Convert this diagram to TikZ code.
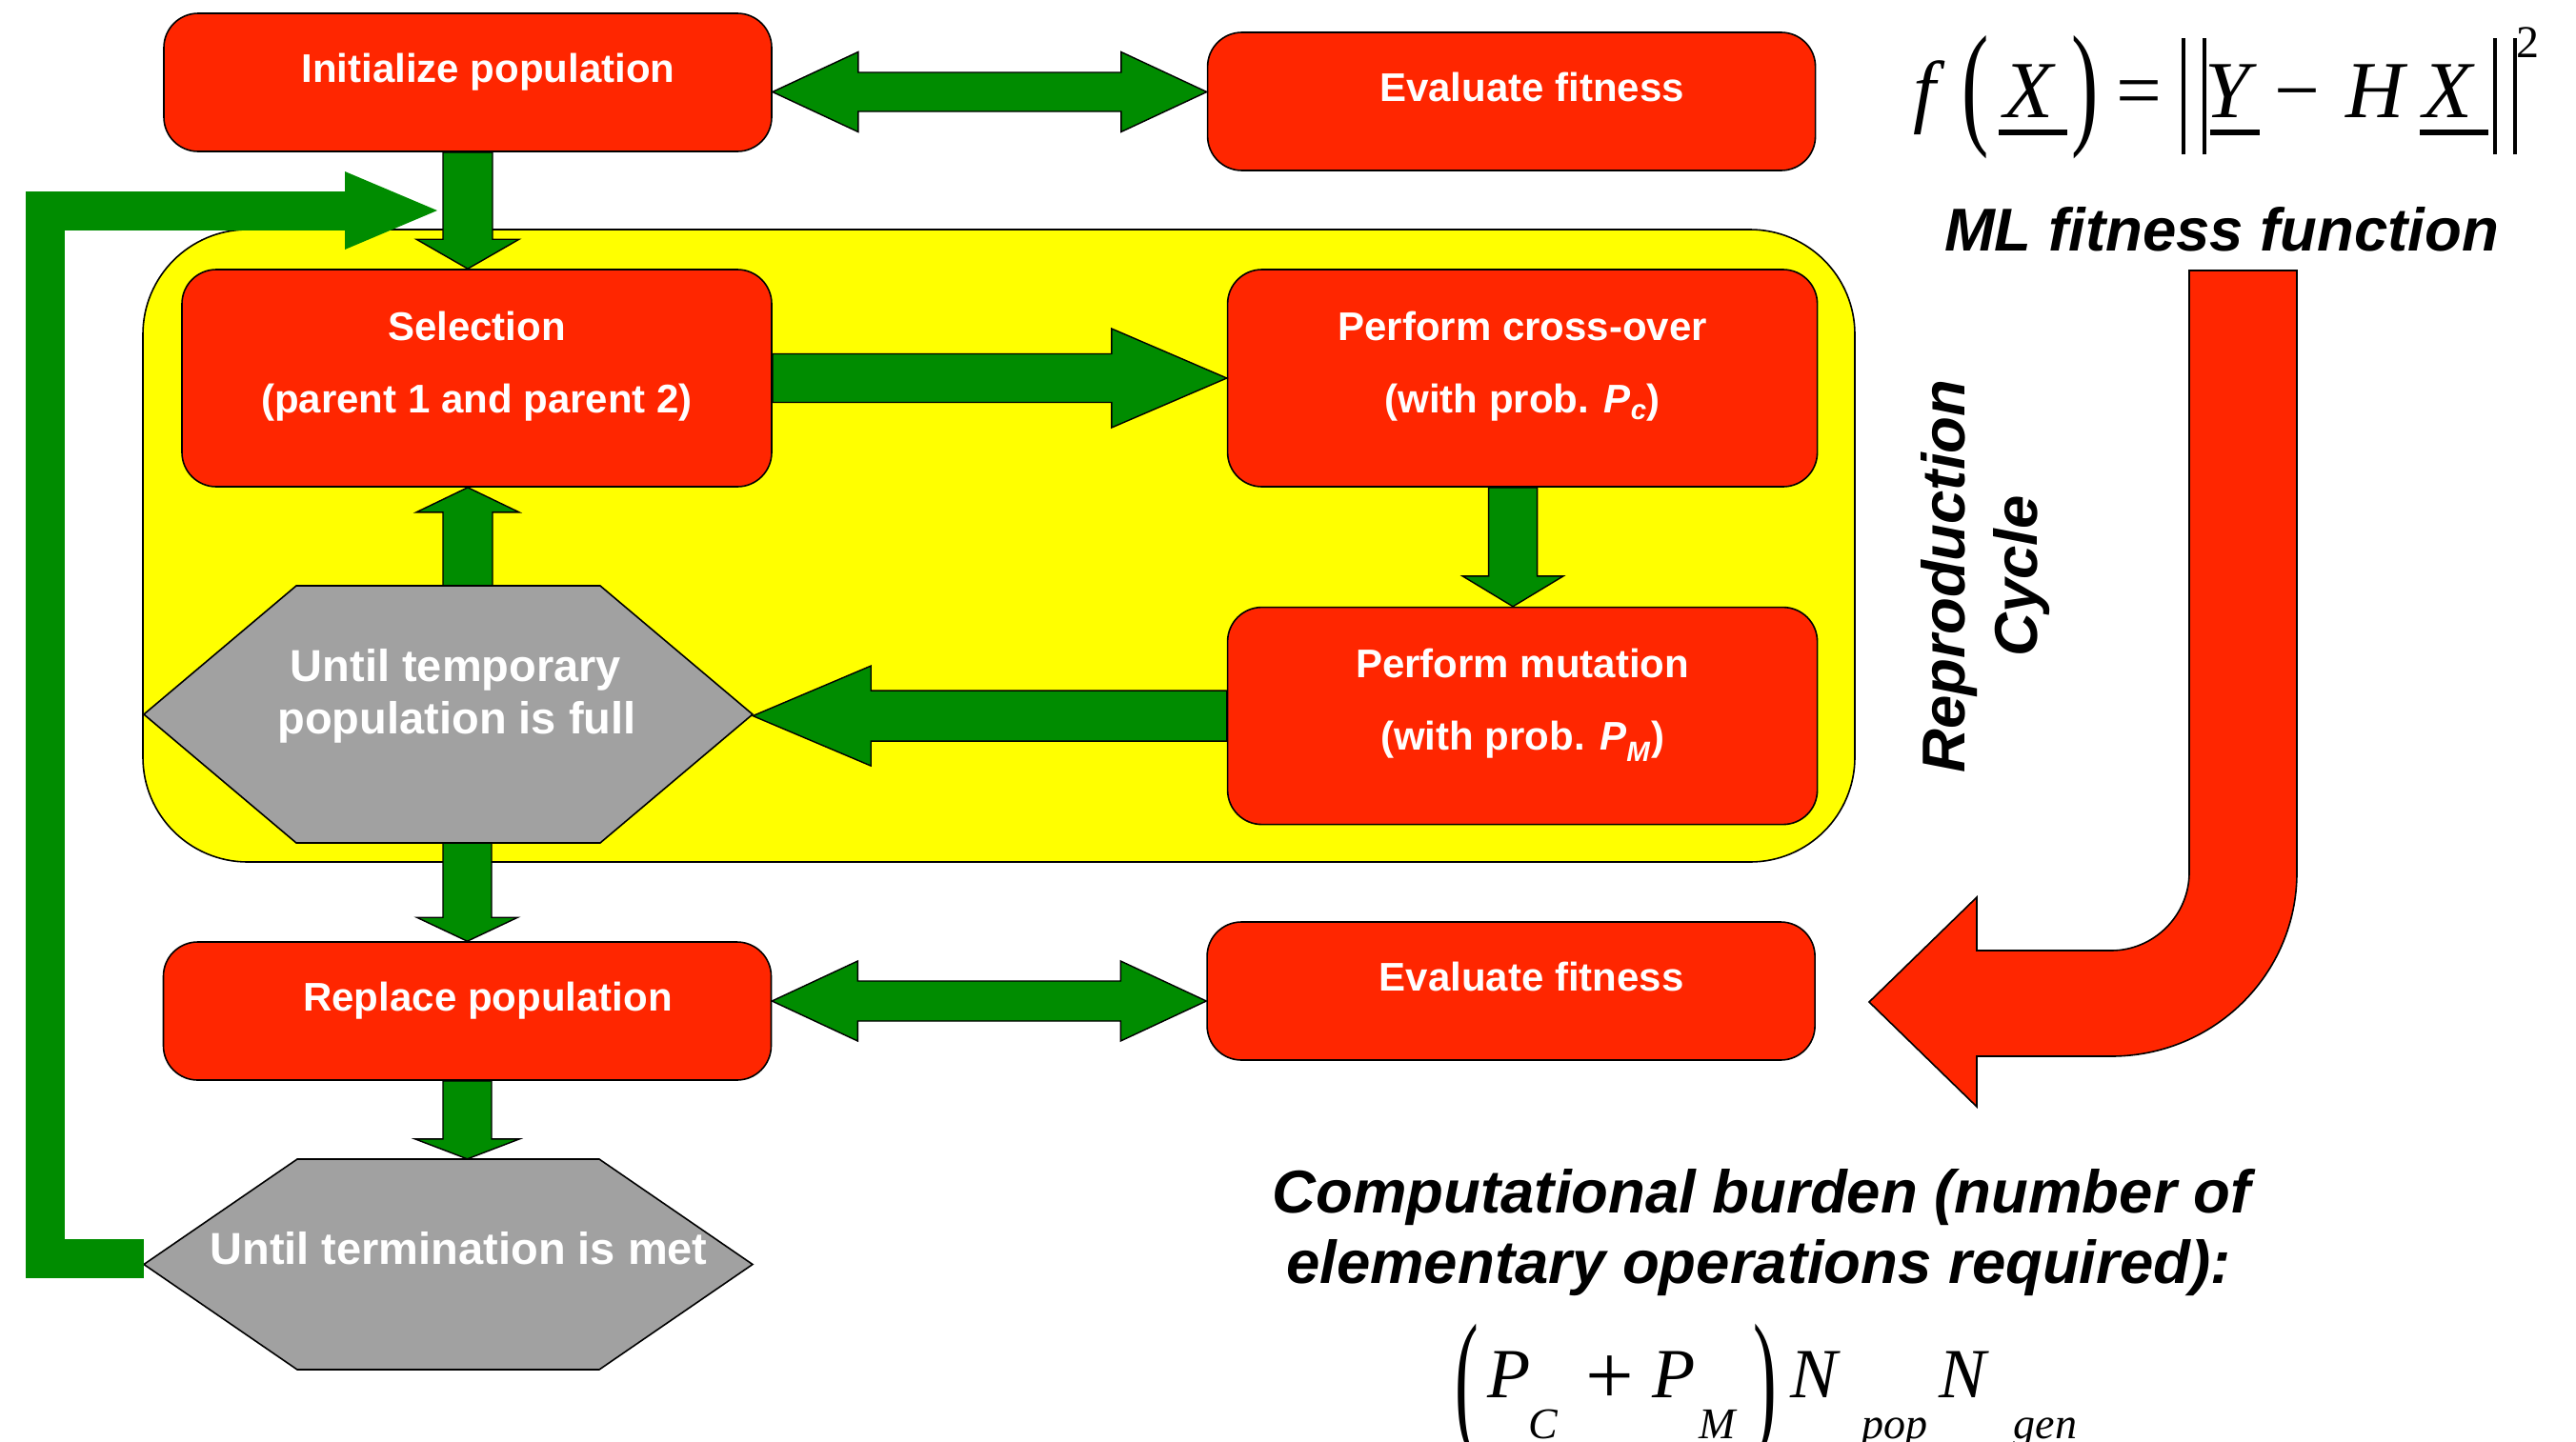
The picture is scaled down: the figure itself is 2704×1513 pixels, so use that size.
\documentclass[tikz,border=0pt]{standalone}
\usepackage{graphicx}
\usepackage{fontspec}
\setmainfont{Liberation Sans}
\newfontfamily\tmsfont{Liberation Serif}
\usetikzlibrary{calc,positioning,arrows.meta}

\definecolor{boxred}{RGB}{255,38,0}
\definecolor{arrowgreen}{RGB}{0,140,0}
\definecolor{cycleyellow}{RGB}{255,255,0}
\definecolor{hexgrey}{RGB}{161,161,161}

\newcommand{\boxfont}{\fontsize{42}{76}\selectfont\bfseries}
\newcommand{\hexfont}{\fontsize{47}{55}\selectfont\bfseries}
\newcommand{\notefont}{\fontsize{63.5}{76}\selectfont\bfseries\itshape}

% block arrows: from, to, shaft half width, head half width, head length
\newcommand{\harrow}[5]{%
  \draw[fatarrow] let \p1=(#1), \p2=(#2), \n1={ifthenelse(\x2>\x1,1,-1)} in
    (\x1,\y1+#3pt) -- ({\x2-(\n1)*#5pt},\y1+#3pt) -- ({\x2-(\n1)*#5pt},\y1+#4pt)
    -- (\x2,\y1) -- ({\x2-(\n1)*#5pt},\y1-#4pt) -- ({\x2-(\n1)*#5pt},\y1-#3pt)
    -- (\x1,\y1-#3pt) -- cycle;}
\newcommand{\varrow}[5]{%
  \draw[fatarrow] let \p1=(#1), \p2=(#2), \n1={ifthenelse(\y2>\y1,1,-1)} in
    (\x1-#3pt,\y1) -- (\x1-#3pt,{\y2-(\n1)*#5pt}) -- (\x1-#4pt,{\y2-(\n1)*#5pt})
    -- (\x1,\y2) -- (\x1+#4pt,{\y2-(\n1)*#5pt}) -- (\x1+#3pt,{\y2-(\n1)*#5pt})
    -- (\x1+#3pt,\y1) -- cycle;}
\newcommand{\dharrow}[5]{%
  \draw[fatarrow] let \p1=(#1), \p2=(#2) in
    (\x1,\y1) -- (\x1+#5pt,\y1+#4pt) -- (\x1+#5pt,\y1+#3pt) -- (\x2-#5pt,\y1+#3pt)
    -- (\x2-#5pt,\y1+#4pt) -- (\x2,\y1) -- (\x2-#5pt,\y1-#4pt) -- (\x2-#5pt,\y1-#3pt)
    -- (\x1+#5pt,\y1-#3pt) -- (\x1+#5pt,\y1-#4pt) -- cycle;}
% hexagon: center, half width, half height, cut
\newcommand{\hexshape}[4]{%
  \draw[hexa] ($(#1)+(-#2,0)$) -- ($(#1)+(-#2+#4,-#3)$) -- ($(#1)+(#2-#4,-#3)$)
    -- ($(#1)+(#2,0)$) -- ($(#1)+(#2-#4,#3)$) -- ($(#1)+(-#2+#4,#3)$) -- cycle;}
% formula pieces
\newcommand{\at}[2]{\rlap{\hspace*{#1}#2}}
\newcommand{\tallp}[3]{\raisebox{#3}{\scalebox{1}[#2]{#1}}}
\newcommand{\ubar}[3]{\rlap{\hspace*{#1}\rule[-19pt]{#2}{6pt}}#3}
\newcommand{\normbar}{\rule[-39pt]{4pt}{122pt}}
\newcommand{\subf}[1]{\raisebox{-43pt}{\fontsize{46}{46}\selectfont\itshape #1}}

\begin{document}
\begin{tikzpicture}[x=1pt,y=-1pt,
    boxbase/.style={draw=black, line width=1.6pt, fill=boxred, rounded corners=36pt,
      inner sep=0pt, text=white, font=\boxfont, text depth=0pt},
    stepbox/.style={boxbase, minimum width=638pt, minimum height=145pt,
      text height=0pt, execute at begin node=\hspace*{43pt}},
    twobox/.style={boxbase, minimum width=619pt, minimum height=228pt,
      align=center, text height=72pt},
    hexa/.style={draw=black, line width=1.6pt, fill=hexgrey},
    hextext/.style={text=white, font=\hexfont, inner sep=0pt, align=center,
      minimum width=639pt},
    fatarrow/.style={draw=black, line width=1.4pt, fill=arrowgreen},
    loopline/.style={draw=arrowgreen, line width=41pt,
      -{Triangle[width=82pt,length=97pt,line width=0pt]}},
    bigred/.style={draw=black, line width=1.6pt, fill=boxred},
    note/.style={font=\notefont, inner sep=0pt},
    formula/.style={inner sep=0pt, font=\tmsfont\fontsize{85}{90}\selectfont}]

  \useasboundingbox (0,0) rectangle (2704,1513);
  \clip (0,0) rectangle (2704,1513);

  %Reproduction cycle%
  \draw[draw=black, line width=1.6pt, fill=cycleyellow, rounded corners=110pt]
    (150,241) rectangle (1947,905);

  %Steps%
  \node[stepbox] (init) at (491,86.5) {Initialize population};
  \node[stepbox, right=456pt of init, yshift=-20pt] (eval1) {Evaluate fitness};
  \node[twobox] (sel) at (500.5,397) {Selection\\(parent 1 and parent 2)};
  \node[twobox, right=477pt of sel] (cross)
    {Perform cross-over\\(with prob. \textit{P}\textsubscript{\textit{c}})};
  \node[twobox, below=125pt of cross] (mut)
    {Perform mutation\\(with prob. \textit{P}\textsubscript{\textit{M}})};
  \node[stepbox] (rep) at (490.5,1061.5) {Replace population};
  \node[stepbox, right=456pt of rep, yshift=21pt] (eval2) {Evaluate fitness};

  %Loops%
  \coordinate (hex1) at (470.5,750);
  \coordinate (hex2) at (470.5,1327.5);
  \hexshape{hex1}{319.5}{135}{160}
  \hexshape{hex2}{319.5}{110.5}{161}
  \node[hextext, minimum height=270pt, text height=40pt, text depth=0pt] (full) at (hex1)
    {\hspace*{16pt}Until temporary\\\hspace*{18pt}population is full};
  \node[hextext, minimum height=221pt, text height=0pt, text depth=0pt] (term) at (hex2)
    {\hspace*{22pt}Until termination is met};

  %Arrows%
  \coordinate (m1) at ($(init.east)!.5!(eval1.west)$);
  \coordinate (m2) at ($(rep.east)!.5!(eval2.west)$);
  \dharrow{init.east |- m1}{eval1.west |- m1}{20.5}{42}{90}
  \dharrow{rep.east |- m2}{eval2.west |- m2}{21}{42}{90}
  \varrow{init.south}{init.south |- sel.north}{26}{54}{31}
  \harrow{sel.east}{cross.west}{25.5}{52}{121}
  \varrow{$(cross.south)+(-10,0)$}{mut.north}{25.5}{53}{32}
  \harrow{mut.west}{full.east}{26.5}{52.5}{124}
  \varrow{init.south |- full.north}{sel.south}{26}{54}{26}
  \varrow{rep.north |- full.south}{rep.north}{25.5}{53}{25}
  \varrow{rep.south}{term.north}{25.5}{55}{21}

  \coordinate (looptip) at (459,221);
  \draw[loopline] ([yshift=6.5pt]term.west) -| (47.5,221) -- (looptip);

  %Fitness%
  \node[formula, anchor=base west] (fitfun) at (2000,123) {%
    \at{8pt}{\itshape f}\at{59pt}{\tallp{(}{1.68}{-13.6pt}}%
    \at{103pt}{\ubar{-6pt}{72pt}{\itshape X}}\at{174pt}{\tallp{)}{1.68}{-13.6pt}}%
    \at{221pt}{=}\at{289pt}{\normbar}\at{311pt}{\normbar}%
    \at{314pt}{\ubar{5pt}{52pt}{\itshape Y}}\at{387pt}{−}\at{462pt}{\itshape H}%
    \at{543pt}{\ubar{-4pt}{72pt}{\itshape X}}\at{616pt}{\normbar}\at{637pt}{\normbar}%
    \at{641pt}{\raisebox{63pt}{\fontsize{48}{50}\selectfont 2}}};
  \node[note, anchor=base] (mltext) at (2332,263) {ML fitness function};
  \draw[bigred] (2298,284) -- (2298,916) .. controls (2298,961) and (2261,998) .. (2216,998)
    -- (2075,998) -- (2075,942) -- (1962,1052) -- (2075,1162) -- (2075,1109) -- (2216,1109)
    .. controls (2324,1109) and (2411,1023) .. (2411,916) -- (2411,284) -- cycle;
  \node[note, rotate=90, align=center] (repcyc) at (2084,605) {Reproduction\\Cycle};

  %Burden%
  \node[note, anchor=base] (burden1) at (1849,1273) {Computational burden (number of};
  \node[note, anchor=base] (burden2) at (1846,1347) {elementary operations required):};
  \node[formula, anchor=base west, font=\tmsfont\fontsize{74}{80}\selectfont] (burdenf)
    at (1500,1467) {%
    \at{26.5pt}{\tallp{(}{2.17}{-34.6pt}}\at{61pt}{\itshape P}\at{104pt}{\subf{C}}%
    \at{164pt}{\raisebox{-7pt}{\fontsize{90}{90}\selectfont +}}\at{234pt}{\itshape P}%
    \at{283pt}{\subf{M}}\at{340pt}{\tallp{)}{2.17}{-34.6pt}}\at{379pt}{\itshape N}%
    \at{454pt}{\subf{pop}}\at{535pt}{\itshape N}\at{613pt}{\subf{gen}}};
\end{tikzpicture}
\end{document}
